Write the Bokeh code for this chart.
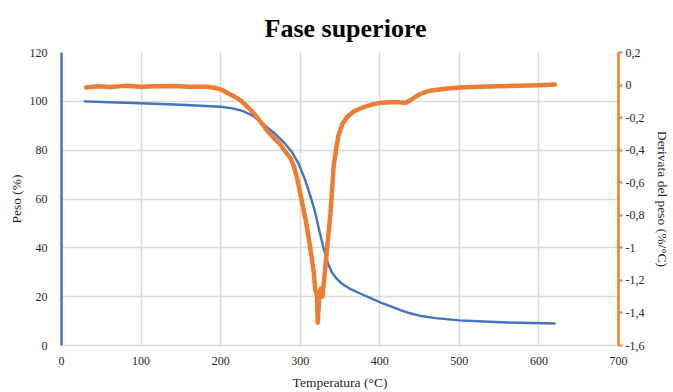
from bokeh.plotting import figure
from bokeh.models import Range1d, LinearAxis, FixedTicker, CustomJSTickFormatter
from bokeh.embed import file_html
from bokeh.resources import INLINE

# ---- data ----
temp_peso = [28, 60, 100, 150, 200, 215, 228, 240, 250, 260, 270, 280, 290, 298, 306,
             313, 318, 324, 330, 335, 340, 346, 352, 362, 376, 390, 401, 414, 426, 438,
             450, 470, 500, 530, 560, 590, 621]
peso = [100, 99.6, 99.2, 98.6, 97.8, 97.1, 96.0, 94.2, 91.6, 89.0, 86.2, 83.0, 79.0, 74.5, 68.0,
        61.0, 55.5, 47.0, 39.0, 33.5, 29.8, 27.3, 25.4, 23.3, 21.2, 19.2, 17.6, 16.0, 14.5, 13.2,
        12.2, 11.2, 10.3, 9.8, 9.4, 9.2, 9.0]

temp_deriv = [31, 45, 60, 80, 100, 120, 140, 160, 184, 195, 202, 209, 217, 225, 233, 242, 250,
              258, 266, 275, 283, 288, 292, 296, 300, 304, 308, 312, 317, 319, 321, 322, 323,
              324, 326, 328, 330, 334, 338, 342, 345, 348, 353, 359, 368, 380, 392, 402, 414,
              424, 432, 438, 444, 451, 458, 465, 480, 500, 525, 550, 575, 600, 620]
deriv = [-0.015, -0.008, -0.012, -0.005, -0.010, -0.008, -0.006, -0.010, -0.010, -0.020, -0.030,
         -0.050, -0.070, -0.094, -0.130, -0.175, -0.225, -0.277, -0.320, -0.365, -0.420, -0.450,
         -0.500, -0.570, -0.665, -0.760, -0.860, -0.980, -1.150, -1.260, -1.290, -1.460, -1.380,
         -1.290, -1.250, -1.300, -1.200, -0.990, -0.790, -0.500, -0.400, -0.310, -0.240, -0.196,
         -0.160, -0.135, -0.117, -0.108, -0.106, -0.106, -0.110, -0.095, -0.075, -0.055, -0.042,
         -0.033, -0.024, -0.015, -0.010, -0.007, -0.004, -0.001, 0.003]

x_ticks = [0, 100, 200, 300, 400, 500, 600, 700]
y_ticks = [0, 20, 40, 60, 80, 100, 120]
d_ticks = [-1.6, -1.4, -1.2, -1.0, -0.8, -0.6, -0.4, -0.2, 0.0, 0.2]

title_text = "Fase superiore"
x_label = "Temperatura (°C)"
y_label = "Peso (%)"
y2_label = "Derivata del peso (%/°C)"

BLUE = "#4472C4"
ORANGE = "#ED7D31"
GRID = "#D9D9D9"
TXT = "#262626"
FONT = "Liberation Serif"

p = figure(width=673, height=392, output_backend="svg", toolbar_location=None,
           x_range=Range1d(0, 700), y_range=Range1d(0, 120),
           min_border_left=61, min_border_right=54, min_border_top=52, min_border_bottom=46,
           title=title_text)
p.outline_line_color = None
p.background_fill_color = "white"
p.border_fill_color = "white"

p.title.align = "left"
p.title.offset = 203
p.title.text_font = FONT
p.title.text_font_size = "26px"
p.title.text_font_style = "bold"
p.title.text_color = "black"
p.title.standoff = 20

# x axis
p.xaxis.ticker = FixedTicker(ticks=x_ticks)
p.xaxis.axis_line_color = GRID
p.xaxis.axis_line_width = 1.5
p.xaxis.major_tick_line_color = None
p.xaxis.minor_tick_line_color = None
p.xaxis.major_label_text_font = FONT
p.xaxis.major_label_text_font_size = "12px"
p.xaxis.major_label_text_color = TXT
p.xaxis.major_label_standoff = 5
p.xaxis.axis_label = x_label
p.xaxis.axis_label_text_font = FONT
p.xaxis.axis_label_text_font_size = "13.5px"
p.xaxis.axis_label_text_font_style = "normal"
p.xaxis.axis_label_text_color = TXT
p.xaxis.axis_label_standoff = 7

# left y axis
p.yaxis.ticker = FixedTicker(ticks=y_ticks)
p.yaxis.axis_line_color = BLUE
p.yaxis.axis_line_width = 2.5
p.yaxis.major_tick_line_color = None
p.yaxis.minor_tick_line_color = None
p.yaxis.major_label_text_font = FONT
p.yaxis.major_label_text_font_size = "12px"
p.yaxis.major_label_text_color = TXT
p.yaxis.major_label_standoff = 8
p.yaxis.axis_label = y_label
p.yaxis.axis_label_text_font = FONT
p.yaxis.axis_label_text_font_size = "13.5px"
p.yaxis.axis_label_text_font_style = "normal"
p.yaxis.axis_label_text_color = TXT
p.yaxis.axis_label_standoff = 3

p.xgrid.ticker = FixedTicker(ticks=x_ticks)
p.ygrid.ticker = FixedTicker(ticks=y_ticks)
p.xgrid.grid_line_color = GRID
p.ygrid.grid_line_color = GRID
p.xgrid.grid_line_width = 1.5
p.ygrid.grid_line_width = 1.5

# right y axis
p.extra_y_ranges = {"deriv": Range1d(-1.6, 0.2)}
ax2 = LinearAxis(y_range_name="deriv", ticker=FixedTicker(ticks=d_ticks),
                 formatter=CustomJSTickFormatter(code="""
                     var v = Math.round(tick * 10) / 10;
                     if (v === 0) { v = 0; }
                     return v.toString().replace('.', ',');
                 """))
ax2.axis_line_color = ORANGE
ax2.axis_line_width = 2.5
ax2.major_tick_line_color = ORANGE
ax2.major_tick_line_width = 2
ax2.major_tick_in = 0
ax2.major_tick_out = 4
ax2.minor_tick_line_color = None
ax2.major_label_text_font = FONT
ax2.major_label_text_font_size = "12px"
ax2.major_label_text_color = TXT
ax2.major_label_standoff = 3
ax2.axis_label = y2_label
ax2.axis_label_text_font = FONT
ax2.axis_label_text_font_size = "13.5px"
ax2.axis_label_text_font_style = "normal"
ax2.axis_label_text_color = TXT
ax2.axis_label_standoff = 8
p.add_layout(ax2, "right")

p.line(temp_peso, peso, line_color=BLUE, line_width=2.4, line_join="round")
p.line(temp_deriv, deriv, y_range_name="deriv", line_color=ORANGE, line_width=4.5,
       line_join="round", line_cap="round")

open("out.html", "w").write(file_html(p, INLINE))
